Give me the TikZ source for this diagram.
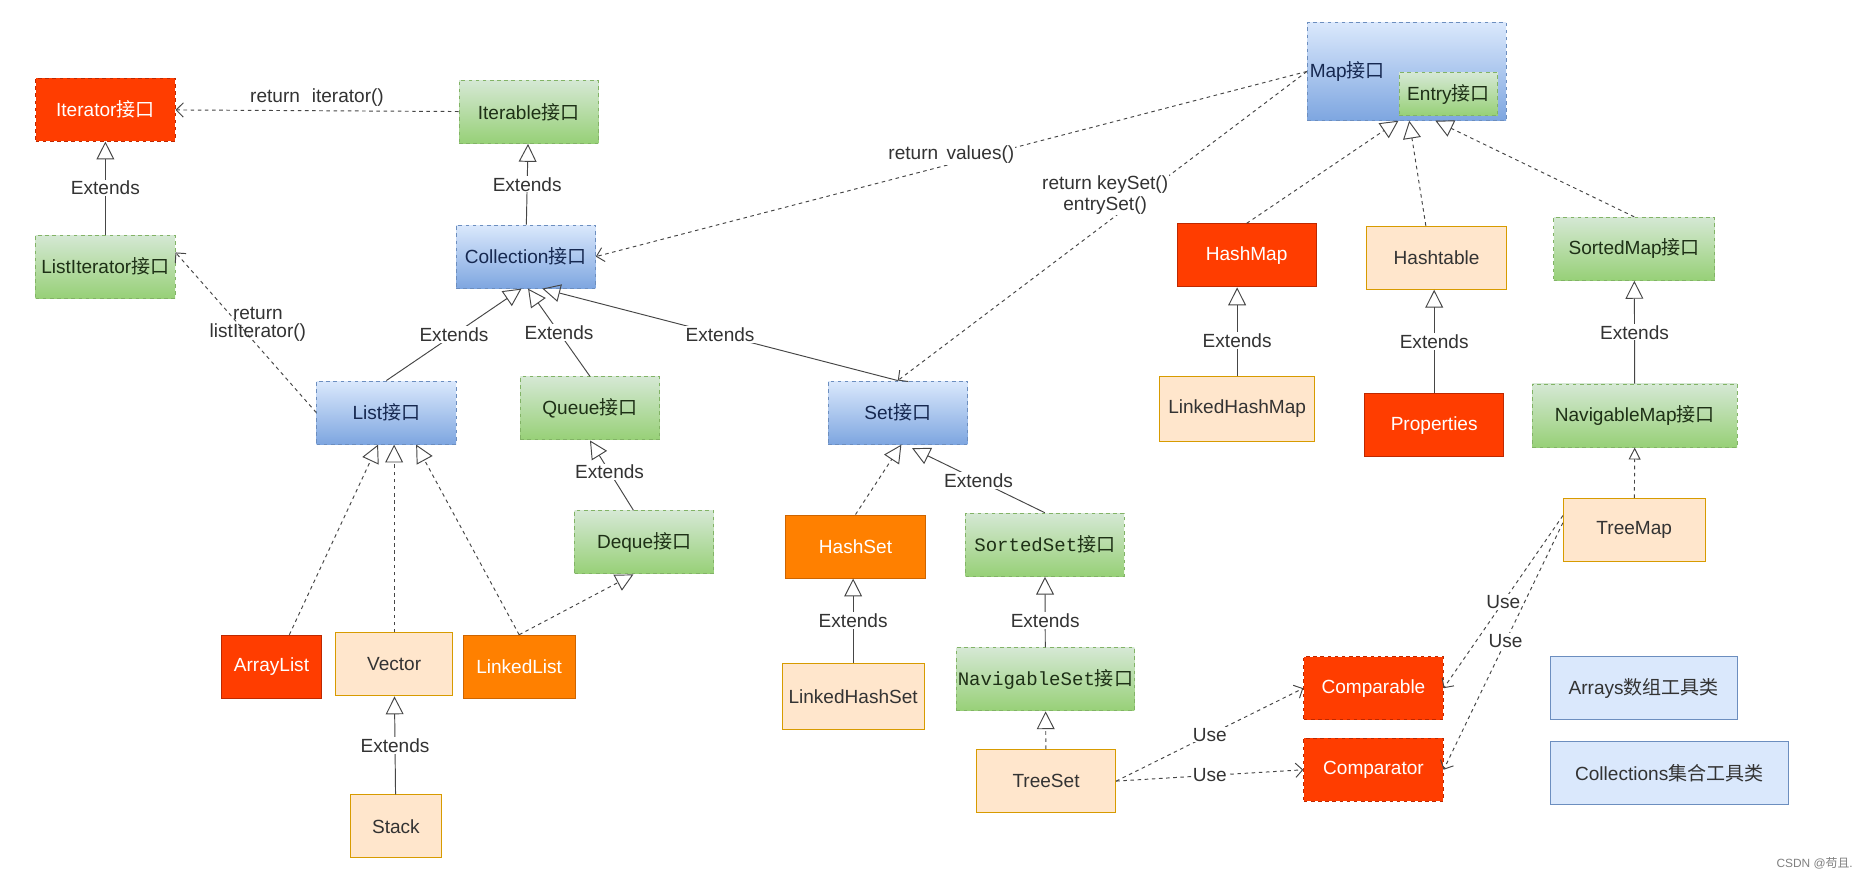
\documentclass[tikz,border=0pt]{standalone}
\usepackage{fontspec}
\setmainfont{Liberation Sans}
\newfontfamily\cjkfont{Noto Sans CJK SC}
\newfontfamily\codefont{Liberation Mono}
\usetikzlibrary{arrows.meta}
\newcommand\jk{{\cjkfont 接口}}
\definecolor{red1}{RGB}{255,61,0}
\definecolor{red2}{RGB}{190,40,0}
\definecolor{orange1}{RGB}{255,128,0}
\definecolor{orange2}{RGB}{205,100,0}
\definecolor{pale}{RGB}{255,230,204}
\definecolor{paleline}{RGB}{215,155,0}
\definecolor{green1}{RGB}{213,232,212}
\definecolor{green2}{RGB}{151,208,119}
\definecolor{greenline}{RGB}{130,179,102}
\definecolor{blue1}{RGB}{218,232,252}
\definecolor{blue2}{RGB}{126,166,224}
\definecolor{blueline}{RGB}{108,142,191}
\definecolor{txt}{RGB}{51,51,51}
\definecolor{greentxt}{RGB}{30,48,22}
\definecolor{bluetxt}{RGB}{22,40,80}
\definecolor{edge}{RGB}{70,70,70}
\tikzset{
  dsh/.style={dash pattern=on 3pt off 3pt},
  box/.style={rectangle, minimum width=117pt, minimum height=53pt, inner sep=1pt, line width=0.8pt, font=\fontsize{16}{19}\selectfont},
  redbox/.style={box, fill=red1, draw=red2, text=white},
  orangebox/.style={box, fill=orange1, draw=orange2, text=white},
  palebox/.style={box, fill=pale, draw=paleline, text=txt},
  greenbox/.style={box, top color=green1, bottom color=green2, draw=greenline, dsh, text=greentxt},
  bluebox/.style={box, top color=blue1, bottom color=blue2, draw=blueline, dsh, text=bluetxt},
  toolbox/.style={box, fill=blue1, draw=blueline, text=txt},
  ext/.style={-{Triangle[open, length=15pt, width=15pt]}, line width=0.8pt, draw=edge},
  impl/.style={ext, dsh},
  smallimpl/.style={-{Triangle[open, length=10pt, width=10pt]}, line width=0.8pt, draw=edge, dsh},
  ret/.style={-{Straight Barb[length=6pt, width=12pt]}, dsh, line width=0.8pt, draw=edge},
  lbl/.style={fill=white, inner sep=1pt, text=txt, font=\fontsize{16}{17}\selectfont},
}
\begin{document}
\begin{tikzpicture}[x=1pt, y=-1pt]
\fill[white] (0,0) rectangle (1568,738);
\useasboundingbox (0,0) rectangle (1568,738);
\node[redbox, dsh] (iterator) at (88.5,92){Iterator\jk};
\node[greenbox] (iterable) at (444,94){Iterable\jk};
\node[greenbox] (listiter) at (88.5,224){ListIterator\jk};
\node[bluebox] (collection) at (441.5,215.5){Collection\jk};
\node[bluebox] (list) at (324.5,346.5){List\jk};
\node[greenbox] (queue) at (495.5,343){Queue\jk};
\node[greenbox] (deque) at (541,455.5){Deque\jk};
\node[redbox, minimum width=84pt] (arraylist) at (228,560){ArrayList};
\node[palebox, minimum width=98pt] (vector) at (331,558){Vector};
\node[orangebox, minimum width=94pt] (linkedlist) at (436,560){LinkedList};
\node[palebox, minimum width=77pt] (stack) at (332.5,694){Stack};
\node[bluebox] (set) at (754,346.5){Set\jk};
\node[orangebox] (hashset) at (718.5,459){HashSet};
\node[greenbox, minimum width=133pt] (sortedset) at (877.5,457.5){\codefont SortedSet\jk};
\node[palebox, minimum width=119pt, minimum height=56pt] (linkedhashset) at (716.5,585){LinkedHashSet};
\node[greenbox, minimum width=140pt] (navset) at (878,570.5){\codefont NavigableSet\jk};
\node[palebox] (treeset) at (878.5,656){TreeSet};
\node[bluebox, minimum width=167pt, minimum height=82pt, text width=163pt, align=left] (map) at (1181.5,60){Map\jk};
\node[greenbox, minimum width=83pt, minimum height=36pt] (entry) at (1216.5,79){Entry\jk};
\node[redbox] (hashmap) at (1047,214.5){HashMap};
\node[palebox] (hashtable) at (1206.5,216.5){Hashtable};
\node[greenbox, minimum width=135pt] (sortedmap) at (1372.5,209){SortedMap\jk};
\node[palebox, minimum width=130pt, minimum height=55pt] (linkedhashmap) at (1039,343.5){LinkedHashMap};
\node[redbox] (properties) at (1204.5,357){Properties};
\node[greenbox, minimum width=172pt] (navmap) at (1373,349){NavigableMap\jk};
\node[palebox, minimum width=119pt] (treemap) at (1372.5,445){TreeMap};
\node[redbox, dsh] (comparable) at (1153.5,578){Comparable};
\node[redbox, dsh] (comparator) at (1153.5,646.5){Comparator};
\node[toolbox, minimum width=157pt] (arrays) at (1380.5,578){Arrays{\cjkfont 数组工具类}};
\node[toolbox, minimum width=200pt] (collections) at (1402,649){Collections{\cjkfont 集合工具类}};
\node[text=gray, font=\fontsize{10}{12}\selectfont] (csdn) at (1524,725){CSDN @{\cjkfont 苟且}.};
\draw[ret](iterable) -- node[above, text=txt, font=\fontsize{16}{17}\selectfont]{return\hspace{10pt}iterator()} (iterator);
\draw[ext](listiter) -- node[lbl]{Extends} (iterator);
\draw[ext](collection) -- node[lbl]{Extends} (iterable);
\draw[ret](map.west) -- node[lbl, yshift=8pt]{return\hspace{7pt}values()} (collection.east);
\draw[ret](map.west) -- node[lbl, pos=0.4, xshift=-32pt, align=center]{return keySet()\\entrySet()} (set.north);
\draw[ret](list.west) -- node[pos=0.55, xshift=16pt, inner sep=0pt, text=txt, align=center, font=\fontsize{16}{15}\selectfont]{return\\listIterator()} ([yshift=12pt]listiter.east);
\draw[ext](list.north) -- node[lbl]{Extends} ([xshift=-3.5pt]collection.south);
\draw[ext](queue.north) -- node[lbl]{Extends} ([xshift=2pt]collection.south);
\draw[ext](set.north) -- node[lbl]{Extends} ([xshift=14pt]collection.south);
\draw[impl]([xshift=15pt]arraylist.north) -- ([xshift=-7pt]list.south);
\draw[impl](vector.north) -- (vector.north |- list.south);
\draw[impl](linkedlist.north) -- ([xshift=25pt]list.south);
\draw[impl](linkedlist.north) -- ([xshift=-9pt]deque.south);
\draw[ext]([xshift=-9pt]deque.north) -- node[lbl, pos=0.55]{Extends} (queue.south);
\draw[ext](stack) -- node[lbl]{Extends} (vector);
\draw[impl](hashset.north) -- ([xshift=3pt]set.south);
\draw[ext](sortedset.north) -- node[lbl]{Extends} ([xshift=12pt, yshift=-3pt]set.south);
\draw[ext](linkedhashset) -- node[lbl]{Extends} (linkedhashset |- hashset.south);
\draw[ext](navset) -- node[lbl, pos=0.38]{Extends} (sortedset);
\draw[impl](treeset) -- (navset);
\draw[ret](treeset.east) -- node[lbl]{Use} (comparable.west);
\draw[ret](treeset.east) -- node[lbl]{Use} (comparator.west);
\draw[ret]([yshift=12pt]treemap.west) -- node[lbl]{Use} (comparable.east);
\draw[ret]([yshift=6pt]treemap.west) -- node[lbl, pos=0.48]{Use} (comparator.east);
\draw[impl](hashmap.north) -- ([xshift=-7pt]map.south);
\draw[impl]([xshift=-9pt]hashtable.north) -- ([xshift=2pt]map.south);
\draw[impl](sortedmap.north) -- ([xshift=24pt]map.south);
\draw[ext](linkedhashmap) -- node[lbl, pos=0.4]{Extends} (linkedhashmap |- hashmap.south);
\draw[ext](properties) -- node[lbl]{Extends} (properties |- hashtable.south);
\draw[ext](navmap) -- node[lbl]{Extends} (sortedmap);
\draw[smallimpl](treemap) -- (navmap);
\end{tikzpicture}
\end{document}
